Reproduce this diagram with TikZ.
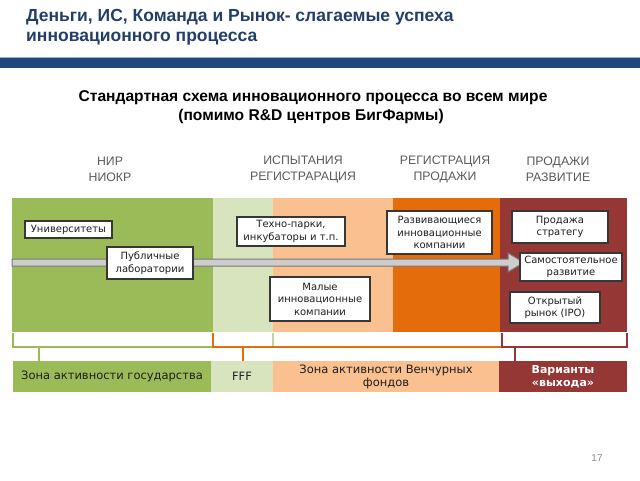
\documentclass[tikz,border=0pt]{standalone}
\usepackage{fontspec}
\setmainfont{Liberation Sans}
\newfontfamily\boxfont{DejaVu Sans}
\definecolor{titleblue}{RGB}{35,62,105}
\definecolor{barblue}{RGB}{31,73,125}
\definecolor{barlight}{RGB}{150,175,205}
\definecolor{cgreen}{RGB}{155,187,89}
\definecolor{clgreen}{RGB}{215,228,189}
\definecolor{clorange}{RGB}{250,192,144}
\definecolor{corange}{RGB}{228,108,10}
\definecolor{cdred}{RGB}{149,55,53}
\definecolor{hdrgray}{RGB}{90,90,90}
\definecolor{boxtext}{RGB}{30,30,30}
\definecolor{boxedge}{RGB}{55,55,55}
\definecolor{arrowfill}{RGB}{205,205,205}
\definecolor{arrowedge}{RGB}{120,120,120}
\definecolor{pagegray}{RGB}{140,140,140}
\definecolor{brgreen}{RGB}{155,187,89}
\definecolor{brlgreen}{RGB}{195,214,155}
\tikzset{
  titletext/.style={anchor=west, text=titleblue, font=\fontsize{17.5}{20}\selectfont\bfseries, inner sep=0pt},
  subtext/.style={anchor=center, text=black, font=\fontsize{15.6}{18}\selectfont\bfseries, inner sep=0pt, align=center},
  hdrtext/.style={anchor=center, text=hdrgray, font=\fontsize{12.3}{15.5}\selectfont, inner sep=0pt, align=center},
  whitebox/.style={draw=boxedge, fill=white, line width=1.1pt, inner sep=1pt, align=center,
    text=boxtext, font=\boxfont\fontsize{10}{12.5}\selectfont},
  zonebox/.style={inner sep=0pt, align=center, minimum height=31pt, font=\boxfont\fontsize{11.5}{13}\selectfont},
  bracket/.style={line width=1.4pt},
}
\begin{document}
\begin{tikzpicture}[x=1pt,y=-1pt]
\useasboundingbox[fill=white] (0,0) rectangle (640,480);
% title
\node[titletext] (t1) at (26,17) {Деньги, ИС, Команда и Рынок- слагаемые успеха};
\node[titletext] (t2) at (26,39) {инновационного процесса};
\fill[barlight] (0,57) rectangle (640,58);
\fill[barblue] (0,58) rectangle (640,68);
% subtitle
\node[subtext] (s1) at (313,98) {Стандартная схема инновационного процесса во всем мире};
\node[subtext] (s2) at (311,116) {(помимо R\&D центров БигФармы)};
% headers
\node[hdrtext] (h1) at (110,169.5) {НИР\\НИОКР};
\node[hdrtext] (h2) at (303,169.5) {ИСПЫТАНИЯ\\РЕГИСТРАРАЦИЯ};
\node[hdrtext] (h3) at (445,169.5) {РЕГИСТРАЦИЯ\\ПРОДАЖИ};
\node[hdrtext] (h4) at (558,169.5) {ПРОДАЖИ\\РАЗВИТИЕ};
% bands
\fill[cgreen] (12,198) rectangle (213,332);
\fill[clgreen] (213,198) rectangle (273,332);
\fill[clorange] (273,198) rectangle (393,332);
\fill[corange] (393,198) rectangle (500,332);
\fill[cdred] (500,198) rectangle (627,332);
% arrow
\coordinate (astart) at (12,262.5);
\coordinate (atip) at (524,262.5);
\path[draw=arrowedge, fill=arrowfill, line width=1pt, line join=miter]
  ([yshift=-3.5pt]astart) -- ([xshift=-16pt,yshift=-3.5pt]atip) -- ([xshift=-16pt,yshift=-9.5pt]atip)
  -- (atip) -- ([xshift=-16pt,yshift=9.5pt]atip) -- ([xshift=-16pt,yshift=3.5pt]atip)
  -- ([yshift=3.5pt]astart) -- cycle;
% boxes
\node[whitebox, minimum width=87pt, minimum height=17pt] (univ) at (68.5,229.5) {Университеты};
\node[whitebox, minimum width=86pt, minimum height=32pt] (publ) at (150,263) {Публичные\\лаборатории};
\node[whitebox, minimum width=108pt, minimum height=29pt] (techno) at (291,231.5) {Техно-парки,\\инкубаторы и т.п.};
\node[whitebox, minimum width=100pt, minimum height=44pt] (small) at (320,299) {Малые\\инновационные\\компании};
\node[whitebox, minimum width=105pt, minimum height=43pt] (dev) at (439.5,232.5) {Развивающиеся\\инновационные\\компании};
\node[whitebox, minimum width=96pt, minimum height=32pt] (strat) at (560,227) {Продажа\\стратегу};
\node[whitebox, minimum width=102pt, minimum height=28pt] (indep) at (571,267) {Самостоятельное\\развитие};
\node[whitebox, minimum width=90pt, minimum height=31pt] (ipo) at (555,307.5) {Открытый\\рынок (IPO)};
% brackets
\draw[bracket, brgreen] (13,333) -- (13,347) -- (213,347) -- (213,333);
\draw[bracket, brgreen] (39,347) -- (39,361);
\draw[bracket, brlgreen] (273,333) -- (273,347);
\draw[bracket, corange] (213,333) -- (213,347) -- (502,347);
\draw[bracket, corange] (243,347) -- (243,361);
\draw[bracket, cdred] (502,333) -- (502,347) -- (627,347) -- (627,333);
\draw[bracket, cdred] (515,347) -- (515,361);
% zone boxes
\node[zonebox, fill=cgreen, minimum width=198pt, text=boxtext] (zgov) at (112,376.5) {Зона активности государства};
\node[zonebox, fill=clgreen, minimum width=62pt, text=boxtext] (zfff) at (242,376.5) {FFF};
\node[zonebox, fill=clorange, minimum width=226pt, text=boxtext] (zvc) at (386,376.5) {Зона активности Венчурных\\фондов};
\node[zonebox, fill=cdred, minimum width=128pt, text=white, font=\boxfont\fontsize{11}{13}\selectfont\bfseries] (zexit) at (563,376.5) {Варианты\\«выхода»};
% page number
\node[text=pagegray, font=\fontsize{10}{12}\selectfont, inner sep=0pt] (pnum) at (597,458) {17};
\end{tikzpicture}
\end{document}
